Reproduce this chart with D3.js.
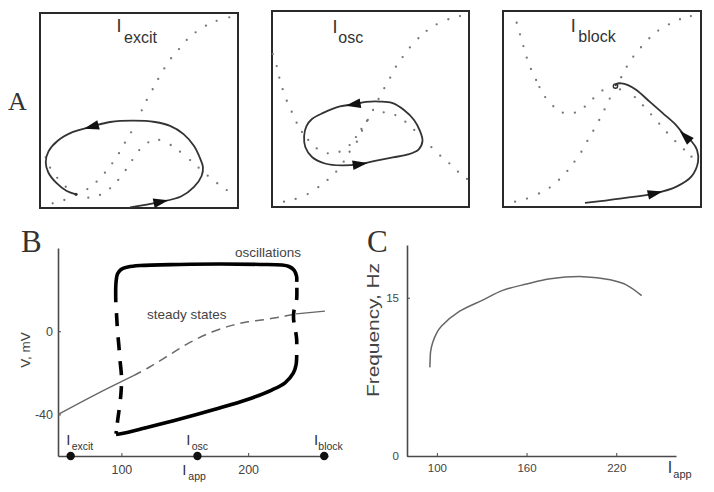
<!DOCTYPE html>
<html><head><meta charset="utf-8">
<script src="https://cdn.jsdelivr.net/npm/d3@7"></script>
<style>body{margin:0;background:#fff} svg{display:block}</style>
</head><body>
<svg id="fig" width="714" height="492"></svg>
<script>
// ================= DATA =================
// Panel A: three phase planes, coordinates in normalized units (0-100, x = V, y = w)
const phaseNames = ["excit", "osc", "block"];

const wNullExcit = [[6.4,2.4],[12.3,4.1],[23.9,9.7],[28.6,13.5],[32.8,18.1],[36.5,22.9],[39.9,28.1],[42.9,33.5],[46.0,38.8],[51.4,50.1],[53.9,55.4],[56.9,60.9],[59.7,66.2],[62.8,71.6],[66.2,76.8],[70.2,81.5],[74.1,86.2],[78.6,90.1],[83.8,93.5],[89.2,96.0],[95.6,97.8]];
const vNullExcit = [[2.9,26.0],[5.1,20.7],[8.7,15.5],[13.0,10.9],[24.4,5.3],[30.3,6.7],[35.4,10.1],[39.5,14.4],[43.3,19.5],[46.6,24.6],[50.1,29.7],[54.7,33.7],[60.2,34.9],[66.0,32.3],[70.7,28.9],[75.8,24.6],[80.1,20.7],[84.7,16.6],[89.5,12.7],[94.3,9.2]];
const trajExcit = [[45.5,0.3],[59.7,2.9],[71.2,5.9],[77.8,10.8],[81.6,16.4],[82.3,21.0],[80.8,25.6],[77.8,31.8],[72.5,37.9],[65.7,42.1],[58.1,44.1],[47.1,44.8],[35.4,44.1],[26.3,41.8],[16.7,39.0],[9.1,34.6],[4.3,29.0],[2.9,23.6],[4.2,18.2],[8.4,12.7],[13.5,8.7],[18.2,7.0]];
const arrowsExcit = [[61,2.8],[26.3,41.8]];

const wNullOsc = [[6.1,2.7],[12.0,4.1],[18.1,6.6],[23.5,10.1],[28.2,13.8],[32.6,18.0],[36.4,23.1],[39.4,28.2],[43.1,33.3],[45.7,38.9],[48.6,44.4],[51.3,49.5],[54.1,55.1],[57.0,60.6],[60.0,66.0],[62.9,71.6],[66.3,76.5],[70.0,81.4],[74.3,86.1],[78.5,89.9],[83.6,93.2],[89.5,95.8],[95.4,97.4]];
const vNullOsc = [[0.4,78.1],[2.4,71.9],[3.7,66.0],[5.4,60.1],[7.5,54.2],[10.0,48.6],[12.5,43.0],[15.2,38.3],[18.4,34.2],[22.7,29.9],[28.3,27.4],[34.3,28.2],[39.4,31.6],[42.6,35.7],[45.4,39.8],[48.2,43.9],[56.7,48.3],[62.6,46.9],[67.7,43.5],[72.2,39.3],[80.9,30.5],[85.4,26.2],[90.0,22.3],[94.4,18.0],[99.0,14.3]];
const trajOsc = [[54.8,53.8],[47.7,53.6],[41.5,52.4],[34.5,51.3],[26.0,48.0],[20.3,44.9],[17.5,41.3],[16.3,36.2],[16.9,30.6],[20.3,25.5],[26.9,22.2],[35.5,21.2],[44.7,21.9],[52.3,23.5],[61.4,25.3],[69.0,26.8],[74.4,29.3],[76.4,33.7],[75.1,38.8],[72.1,44.4],[67.0,49.5],[60.9,53.1]];
const arrowsOsc = [[41.5,52.4],[44.7,21.9]];

const wNullBlock = [[6.1,2.7],[12.1,4.3],[18.2,6.9],[23.6,9.9],[28.3,13.9],[32.5,18.4],[36.1,23.1],[39.6,28.2],[42.6,33.7],[45.6,38.9],[48.6,44.4],[51.3,49.8],[53.9,55.3],[59.7,66.2],[62.5,71.6],[65.8,76.7],[69.7,81.5],[73.9,86.1],[78.4,90.0],[83.8,93.2],[89.4,95.8],[94.9,97.4]];
const vNullBlock = [[6.9,94.0],[8.6,88.1],[10.3,82.1],[12.0,76.2],[14.1,70.4],[16.7,64.8],[18.4,61.2],[21.3,56.1],[25.4,51.4],[30.2,48.1],[36.3,48.1],[41.3,51.2],[45.6,55.4],[50.2,59.5],[59.1,60.0],[66.6,56.1],[70.7,51.8],[74.8,47.3],[78.9,42.5],[82.8,38.0],[87.0,33.6],[91.4,29.4],[95.2,25.7]];
const trajBlock = [[41.4,2.1],[59.1,4.3],[76.8,7.0],[87.6,10.4],[95.2,15.6],[98.5,23.0],[98.0,29.1],[95.4,33.3],[92.2,35.9],[87.4,41.8],[80.8,47.8],[74.2,53.6],[67.4,59.7],[63.1,62.2],[59.8,63.1],[57.3,62.8],[56.8,61.7]];
const arrowsBlock = [[76.8,7.0],[92.2,35.9]];

// Panel B: bifurcation diagram (I_app, V in mV)
const bXTicks = [100, 200];
const bYTicks = [0, -40];
const bYTickLabels = ["0", "-40"];
const markerI = [60, 160, 260];          // I_excit, I_osc, I_block
const steadyStable1 = [[50.2,-40.0],[79.2,-30.6],[109.2,-21.5]];
const steadyUnstable = [[109.2,-21.5],[122.6,-17.1],[138.4,-11.2],[154.1,-5.4],[171.5,-0.4],[187.3,2.8],[199.9,4.5],[213.3,5.6],[226.7,7.0],[237.8,8.3]];
const steadyStable2 = [[237.8,8.3],[260.6,9.7]];
const oscUpper = [[95.5,19.3],[95.8,23.7],[96.9,27.5],[99.7,29.7],[105.2,30.9],[114.7,31.6],[146.2,32.1],[177.8,32.3],[209.4,32.1],[226.7,31.8],[232.2,31.1],[236.2,29.4],[238.2,26.5],[238.3,23.7]];
const oscRightUnstable = [[238.3,23.7],[238.2,15.0],[236.2,10.2],[235.8,6.3],[236.6,2.5],[238.2,-3.3],[238.3,-11.4]];
const oscLower = [[238.3,-11.4],[237.8,-16.2],[235.6,-20.2],[229.1,-24.8],[218.6,-28.3],[200.1,-32.7],[173.9,-37.5],[146.2,-42.2],[118.6,-46.5],[100.5,-49.2],[95.8,-49.7]];
const oscLeftUnstable = [[95.8,-49.3],[97.1,-42.7],[98.5,-36.4],[99.7,-29.7],[100.1,-22.0],[98.9,-13.8],[98.1,-7.6],[96.9,0.6],[96.2,7.8],[95.6,14.0],[95.5,19.3]];

// Panel C: frequency vs I_app
const cXTicks = [100, 160, 220];
const cYTicks = [0, 15];
const freqCurve = [[95.3,8.4],[95.5,9.2],[95.8,9.9],[97.3,10.8],[100,11.7],[103,12.3],[115,13.7],[131,14.8],[144,15.7],[160,16.3],[176,16.8],[198,17.0],[216,16.7],[227,16.2],[237,15.2]];

// ================= DRAWING =================
const svg = d3.select("#fig");
const SANS = "'Liberation Sans', Arial, sans-serif";
const SERIF = "'Liberation Serif', 'Times New Roman', serif";

// ---- Panel A ----
const boxes = [
  {x0:40, x1:238, y0:13, y1:208, w:wNullExcit, v:vNullExcit, t:trajExcit, a:arrowsExcit, closed:false, end:"dot", lx:116.5, ly:31.7, sx:124, sy:43},
  {x0:272, x1:469, y0:11, y1:207, w:wNullOsc, v:vNullOsc, t:trajOsc, a:arrowsOsc, closed:true, end:null, lx:332.5, ly:33.3, sx:338.3, sy:42.7},
  {x0:503, x1:701, y0:11, y1:207, w:wNullBlock, v:vNullBlock, t:trajBlock, a:arrowsBlock, closed:false, end:"ring", lx:570.8, ly:31.7, sx:578.3, sy:41.7}
];

function drawArrow(g, pathNode, target, xs, ys) {
  const L = pathNode.getTotalLength();
  const tx = xs(target[0]), ty = ys(target[1]);
  let best = 0, bd = Infinity;
  for (let i = 0; i <= 400; i++) {
    const p = pathNode.getPointAtLength(L * i / 400);
    const d = (p.x - tx) ** 2 + (p.y - ty) ** 2;
    if (d < bd) { bd = d; best = L * i / 400; }
  }
  const p0 = pathNode.getPointAtLength(Math.max(0, best - 3));
  const p1 = pathNode.getPointAtLength(Math.min(L, best + 3));
  const c = pathNode.getPointAtLength(best);
  const ang = Math.atan2(p1.y - p0.y, p1.x - p0.x) * 180 / Math.PI;
  g.append("path")
    .attr("d", "M8,0 L-7,-4.8 L-7,4.8 Z")
    .attr("transform", `translate(${c.x},${c.y}) rotate(${ang})`)
    .attr("fill", "#111");
}

boxes.forEach((b, i) => {
  const xs = d3.scaleLinear().domain([0, 100]).range([b.x0, b.x1]);
  const ys = d3.scaleLinear().domain([0, 100]).range([b.y1, b.y0]);
  const g = svg.append("g");
  g.append("rect").attr("x", b.x0).attr("y", b.y0)
    .attr("width", b.x1 - b.x0).attr("height", b.y1 - b.y0)
    .attr("fill", "none").attr("stroke", "#2a2a2a").attr("stroke-width", 2);
  [b.w, b.v].forEach(arr => {
    g.selectAll(null).data(arr).enter().append("circle")
      .attr("cx", d => xs(d[0])).attr("cy", d => ys(d[1]))
      .attr("r", 1.15).attr("fill", "#777");
  });
  const line = d3.line().x(d => xs(d[0])).y(d => ys(d[1]))
    .curve(b.closed ? d3.curveCatmullRomClosed : d3.curveCatmullRom);
  const p = g.append("path").attr("d", line(b.t)).attr("fill", "none")
    .attr("stroke", "#333").attr("stroke-width", 1.8);
  b.a.forEach(a => drawArrow(g, p.node(), a, xs, ys));
  const last = b.t[b.t.length - 1];
  if (b.end === "dot") {
    g.append("circle").attr("cx", xs(last[0])).attr("cy", ys(last[1])).attr("r", 1.6).attr("fill", "#333");
  } else if (b.end === "ring") {
    g.append("circle").attr("cx", xs(last[0])).attr("cy", ys(last[1])).attr("r", 2.2)
      .attr("fill", "none").attr("stroke", "#333").attr("stroke-width", 1.4);
  }
  g.append("text").attr("x", b.lx).attr("y", b.ly).text("I")
    .attr("font-family", SANS).attr("font-size", 18).attr("fill", "#333");
  g.append("text").attr("x", b.sx).attr("y", b.sy).text(phaseNames[i])
    .attr("font-family", SANS).attr("font-size", 16).attr("fill", "#333");
});
svg.append("text").attr("x", 8).attr("y", 110).text("A")
  .attr("font-family", SERIF).attr("font-size", 26).attr("fill", "#333");

// ---- Panel B ----
const xB = d3.scaleLinear().domain([50, 263]).range([58, 328]);
const yB = d3.scaleLinear().domain([-60, 40]).range([456, 248]);
const gB = svg.append("g");
const axB = gB.append("g").attr("transform", "translate(0,456)")
  .call(d3.axisBottom(xB).tickValues(bXTicks).tickSize(-3).tickSizeOuter(0).tickPadding(9));
const ayB = gB.append("g").attr("transform", "translate(58,0)")
  .call(d3.axisLeft(yB).tickValues(bYTicks).tickSize(-3).tickSizeOuter(0).tickPadding(5)
    .tickFormat((d, i) => bYTickLabels[i]));
[axB, ayB].forEach(a => {
  a.select(".domain").attr("stroke", "#4a4a4a").attr("stroke-width", 1.6);
  a.selectAll(".tick line").attr("stroke", "#4a4a4a");
  a.selectAll("text").attr("font-family", SANS).attr("font-size", 12.5).attr("fill", "#444");
});
const lineB = d3.line().x(d => xB(d[0])).y(d => yB(d[1])).curve(d3.curveCatmullRom);
gB.append("path").attr("d", lineB(steadyStable1)).attr("fill", "none").attr("stroke", "#666").attr("stroke-width", 1.3);
gB.append("path").attr("d", lineB(steadyUnstable)).attr("fill", "none").attr("stroke", "#6a6a6a").attr("stroke-width", 1.5).attr("stroke-dasharray", "9,6");
gB.append("path").attr("d", lineB(steadyStable2)).attr("fill", "none").attr("stroke", "#666").attr("stroke-width", 1.3);
gB.append("path").attr("d", lineB(oscUpper)).attr("fill", "none").attr("stroke", "#000").attr("stroke-width", 3.6).attr("stroke-linecap", "butt");
gB.append("path").attr("d", lineB(oscLower)).attr("fill", "none").attr("stroke", "#000").attr("stroke-width", 3.6).attr("stroke-linecap", "butt");
gB.append("path").attr("d", lineB(oscRightUnstable)).attr("fill", "none").attr("stroke", "#000").attr("stroke-width", 3.6).attr("stroke-dasharray", "0,6,12,10,13,10,12,10");
gB.append("path").attr("d", lineB(oscLeftUnstable)).attr("fill", "none").attr("stroke", "#000").attr("stroke-width", 3.6).attr("stroke-dasharray", "3,8,13,11,13,11,14,11,13,11,13,11,13");
gB.selectAll(null).data(markerI).enter().append("circle")
  .attr("cx", d => xB(d)).attr("cy", 456).attr("r", 4.2).attr("fill", "#111");
const bLabelX = [66.2, 186.2, 313.9];
const bSubX = [71.7, 191.7, 318.3];
phaseNames.forEach((n, i) => {
  gB.append("text").attr("x", bLabelX[i]).attr("y", 445).text("I")
    .attr("font-family", SANS).attr("font-size", 15).attr("fill", "#333");
  gB.append("text").attr("x", bSubX[i]).attr("y", 450).text(n)
    .attr("font-family", SANS).attr("font-size", 10.5).attr("fill", "#333");
});
gB.append("text").attr("x", 182.2).attr("y", 475).text("I").attr("font-family", SANS).attr("font-size", 15).attr("fill", "#333");
gB.append("text").attr("x", 188.3).attr("y", 480).text("app").attr("font-family", SANS).attr("font-size", 10.5).attr("fill", "#333");
gB.append("text").attr("x", 235).attr("y", 257).text("oscillations").attr("font-family", SANS).attr("font-size", 13.5).attr("fill", "#444");
gB.append("text").attr("x", 147).attr("y", 319).text("steady states").attr("font-family", SANS).attr("font-size", 13.5).attr("fill", "#444");
gB.append("text").attr("transform", "translate(30,350) rotate(-90)").attr("text-anchor", "middle")
  .text("V, mV").attr("font-family", SANS).attr("font-size", 13.5).attr("fill", "#444");
svg.append("text").attr("x", 21).attr("y", 252).text("B")
  .attr("font-family", SERIF).attr("font-size", 31).attr("fill", "#333");

// ---- Panel C ----
const xC = d3.scaleLinear().domain([80, 260]).range([407, 676]);
const yC = d3.scaleLinear().domain([0, 20]).range([456, 245]);
const gC = svg.append("g");
const axC = gC.append("g").attr("transform", "translate(0,456)")
  .call(d3.axisBottom(xC).tickValues(cXTicks).tickSize(-3).tickSizeOuter(0).tickPadding(8));
const ayC = gC.append("g").attr("transform", "translate(407,0)")
  .call(d3.axisLeft(yC).tickValues(cYTicks).tickSize(-3).tickSizeOuter(0).tickPadding(8));
[axC, ayC].forEach(a => {
  a.select(".domain").attr("stroke", "#4a4a4a").attr("stroke-width", 1.6);
  a.selectAll(".tick line").attr("stroke", "#4a4a4a");
  a.selectAll("text").attr("font-family", SANS).attr("font-size", 11.5).attr("fill", "#444");
});
const lineC = d3.line().x(d => xC(d[0])).y(d => yC(d[1])).curve(d3.curveCatmullRom);
gC.append("path").attr("d", lineC(freqCurve)).attr("fill", "none").attr("stroke", "#666").attr("stroke-width", 1.5);
gC.append("text").attr("x", 667.8).attr("y", 473).text("I").attr("font-family", SANS).attr("font-size", 16).attr("fill", "#333");
gC.append("text").attr("x", 673.3).attr("y", 478).text("app").attr("font-family", SANS).attr("font-size", 11).attr("fill", "#333");
gC.append("text").attr("transform", "translate(379,330) rotate(-90)").attr("text-anchor", "middle")
  .attr("textLength", 134).attr("lengthAdjust", "spacingAndGlyphs")
  .text("Frequency, Hz").attr("font-family", SANS).attr("font-size", 16.5).attr("fill", "#444");
svg.append("text").attr("x", 367).attr("y", 252).text("C")
  .attr("font-family", SERIF).attr("font-size", 31).attr("fill", "#333");
</script>
</body></html>
